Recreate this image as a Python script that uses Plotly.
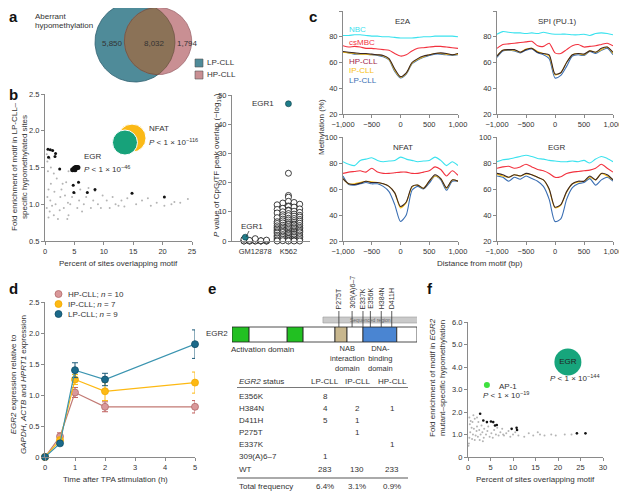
import numpy as np
import plotly.graph_objects as go

W, H = 627, 495
# the page body keeps its default 8px margin, so the figure is drawn 8px smaller
OFF = 8
FW, FH = W - OFF, H - OFF
FONT = "Liberation Sans, Arial, sans-serif"
AX = "#8a8a8a"
TXT = "#333333"

# ---------------- panel a: venn counts
VENN_LP_ONLY = 5850
VENN_SHARED = 8032
VENN_HP_ONLY = 1794

# ---------------- panel b (left): motif enrichment
B_GRAY_X = [0.3, 0.4, 0.8, 0.5, 1.5, 1.0, 0.6, 1.6, 0.4, 0.9, 1.2, 0.3, 0.8, 1.5, 0.6, 2.2, 1.8, 2.6,
            2.8, 3.4, 3.2, 2.5, 3.9, 4.0, 3.8, 4.3, 4.6, 5.1, 5.5, 5.8, 6.0, 6.3, 6.6, 7.0, 7.4, 7.8,
            8.2, 8.5, 9.0, 9.5, 9.8, 10.5, 11.0, 11.5, 12.0, 12.5, 13.0, 13.5, 14.0, 15.5, 16.5,
            17.5, 18.0, 19.0, 20.3, 21.5, 22.0, 23.0, 24.3, 2.0, 3.0, 3.6, 4.0, 1.0]
B_GRAY_Y = [1.68, 1.58, 1.62, 1.45, 1.42, 1.28, 1.20, 1.17, 1.10, 1.05, 0.98, 0.95, 0.90, 0.85, 0.82,
            0.80, 1.00, 1.10, 1.20, 1.12, 0.95, 0.92, 1.02, 0.85, 0.80, 1.00, 1.10, 1.15, 0.95, 1.05,
            1.20, 0.90, 1.00, 1.10, 1.22, 0.95, 1.05, 1.18, 1.00, 0.95, 1.12, 1.05, 0.95, 1.10, 1.00,
            0.98, 1.05, 0.97, 1.08, 1.00, 1.05, 1.08, 0.98, 1.02, 0.98, 1.00, 1.03, 1.02, 1.07, 1.35,
            1.28, 1.30, 1.45, 1.50]
B_BLACK_X = [0.5, 0.9, 1.3, 1.8, 0.6, 1.7, 2.5, 5.7, 4.8, 4.9, 7.2, 8.5, 14.8, 20.3]
B_BLACK_Y = [1.75, 1.74, 1.73, 1.69, 1.64, 1.65, 1.48, 1.30, 1.26, 1.16, 1.16, 1.20, 1.15, 1.10]
B_EGR_X = [4.7, 5.0, 5.2, 5.4, 5.1, 5.6]
B_EGR_Y = [1.47, 1.49, 1.50, 1.50, 1.47, 1.50]
B_NFAT_X = [14.8, 13.6]
B_NFAT_Y = [1.90, 1.84]

# ---------------- panel b (right): CpG / TF peak overlap
STRIP_CATS = ["GM12878", "K562"]
GM_VALUES = [0.0, 0.0, 0.0, 0.0, 0.0, 0.0, 0.0, 0.0, 0.0, 0.0, 0.1, 0.1, 0.2, 0.3, 0.6, 0.8]
K562_VALUES = [23.2, 15.6, 15.0, 13.6, 13.2, 13.0, 12.6, 12.4, 12.0, 11.8, 11.6, 11.2, 11.0, 10.8,
               10.6, 10.4, 10.2, 10.0, 9.8, 9.6, 9.4, 9.2, 9.0, 8.8, 8.7, 8.5, 8.3, 8.2, 8.0, 7.8,
               7.7, 7.5, 7.4, 7.2, 7.0, 6.9, 6.8, 6.6, 6.5, 6.4, 6.2, 6.1, 6.0, 5.9, 5.8, 5.6, 5.5,
               5.4, 5.3, 5.2, 5.0, 4.9, 4.8, 4.7, 4.6, 4.5, 4.4, 4.3, 4.2, 4.1, 4.0, 3.9, 3.8, 3.7,
               3.6, 3.5, 3.4, 3.3, 3.2, 3.1, 3.0, 3.0, 2.9, 2.8, 2.7, 2.6, 2.5, 2.4, 2.3, 2.2, 2.1,
               2.0, 1.9, 1.8, 1.7, 1.6, 1.5, 1.4, 1.3, 1.2, 1.1, 1.0, 0.9, 0.8, 0.7, 0.6, 0.5, 0.4,
               0.3, 0.2, 0.1, 0.0, 0.0, 0.0, 0.0]
EGR1_VALUES = [1.3, 47.0]

# ---------------- panel c: methylation profiles around motifs
DIST = [-1000, -900, -800, -700, -600, -500, -400, -300, -200, -100, 0,
        100, 200, 300, 400, 500, 600, 700, 800, 900, 1000]
C_GROUPS = ["NBC", "csMBC", "HP-CLL", "IP-CLL", "LP-CLL"]
E2A = {
    "NBC": [81, 81, 81.5, 81.5, 81, 80.5, 80.5, 80, 80, 79.5, 79, 79, 79, 79.5, 80, 80, 80.5, 80.5, 80.5, 80.5, 80],
    "csMBC": [73, 72, 72.5, 72, 71, 71, 70.5, 70, 69.5, 67, 65, 66, 69, 71, 71.5, 72, 72.5, 72.5, 72, 71.5, 71],
    "HP-CLL": [68.5, 68, 67.5, 67, 67, 66.5, 66, 65.5, 63, 55, 49, 52, 60, 63, 65, 66, 67, 67.5, 67, 66, 67],
    "IP-CLL": [68, 67.5, 67, 66.5, 66.5, 66, 66, 65, 62.5, 54, 48.5, 51.5, 59.5, 62.5, 64.5, 66, 67, 67, 66.5, 66, 66.5],
    "LP-CLL": [68, 67.5, 66.5, 66.5, 66.5, 66, 65.5, 64.5, 62, 53, 48, 51, 59, 62, 64, 65.5, 66.5, 66.5, 66, 65.5, 66],
}
SPI = {
    "NBC": [82, 84, 83.5, 83, 83, 82.5, 83, 82.5, 83.5, 82.5, 82, 82, 82, 81.5, 81.5, 82, 81, 82.5, 83, 82.5, 81.5],
    "csMBC": [71, 74, 74.5, 75, 75.5, 76, 76.5, 73, 72.5, 75, 67.5, 67, 70, 73, 74, 72, 72.5, 73, 74, 75, 73],
    "HP-CLL": [65, 69.5, 70, 70, 68, 70, 71, 68, 67, 66, 51, 52, 60, 66, 67, 66.5, 69, 68, 71, 72, 68],
    "IP-CLL": [65, 69.5, 70, 69.5, 68, 70.5, 71, 68.5, 67, 65, 50.5, 52, 60, 66, 67, 66, 69, 68, 70, 72, 67],
    "LP-CLL": [64, 69, 69.5, 69, 67.5, 69.5, 70.5, 67.5, 66, 63, 48, 50, 57, 65, 66, 65.5, 68.5, 67, 69.5, 71, 66],
}
NFAT = {
    "NBC": [81, 79, 78, 82, 83, 84, 82, 81, 81.5, 82, 84.5, 83, 82, 81, 81.5, 82, 84.5, 82, 78, 81, 78],
    "csMBC": [72, 73, 73.5, 74, 73, 76, 73, 72, 72, 72.5, 73, 73, 72, 72, 73, 74, 77, 75, 70, 74, 70.5],
    "HP-CLL": [68, 64, 63.5, 64.5, 66, 65, 65, 64, 62, 57, 46.5, 50, 62, 63, 60.5, 66, 71, 68, 61, 67, 66],
    "IP-CLL": [68, 64, 64, 65, 66, 65.5, 65, 64, 62, 57, 45.5, 49.5, 61.5, 63, 60.5, 66, 70, 68, 60.5, 67, 66],
    "LP-CLL": [70, 63.5, 63, 64, 65, 64, 64, 62, 58, 48, 35, 40, 59, 62, 60, 64.5, 70, 67, 59, 66, 66],
}
EGR = {
    "NBC": [81, 82.5, 83, 84, 85, 86, 85, 83.5, 83, 82, 81.5, 81, 81, 81.5, 81, 82, 80, 83, 85, 83.5, 81],
    "csMBC": [76, 77, 77.5, 76, 77, 79, 77, 75, 74, 72, 69, 69.5, 72, 73, 73.5, 74, 74.5, 76, 79, 76, 73],
    "HP-CLL": [72, 71, 69, 71, 70, 72, 71, 69, 67, 60, 46, 48, 58, 64, 66, 66, 70, 67, 72, 71, 67],
    "IP-CLL": [71.5, 70, 69, 71, 70, 71.5, 71, 69, 67, 59.5, 45.5, 47.5, 57.5, 64, 65.5, 66, 69, 67, 72, 70, 67],
    "LP-CLL": [70, 69, 66, 69, 67.5, 70, 68, 66, 62, 52, 35, 37, 52, 61, 64, 65, 68, 63, 67, 69, 66],
}
C_PANELS = [("E2A", E2A), ("SPI (PU.1)", SPI), ("NFAT", NFAT), ("EGR", EGR)]

# ---------------- panel d: EGR2 expression after TPA
TIME_H = [0, 0.5, 1, 2, 5]
D_SERIES = ["HP-CLL", "IP-CLL", "LP-CLL"]
D_N = [10, 7, 9]
D_MEAN = {
    "HP-CLL": [0, 0.33, 1.04, 0.81, 0.81],
    "IP-CLL": [0, 0.27, 1.25, 1.06, 1.20],
    "LP-CLL": [0, 0.22, 1.40, 1.25, 1.82],
}
D_ERR = {
    "HP-CLL": [0, 0.06, 0.08, 0.08, 0.10],
    "IP-CLL": [0, 0.05, 0.08, 0.15, 0.17],
    "LP-CLL": [0, 0.03, 0.12, 0.10, 0.23],
}

# ---------------- panel e: EGR2 protein + mutation table
EGR2_LENGTH = 476
DOMAIN_BOUNDS = [0, 44, 142, 183, 265, 296, 337, 424, 476]
SEQ_REGION = [234, 478]
MUT_LABELS = ["P275T", "309(A)6–7", "E337K", "E356K", "H384N", "D411H"]
MUT_POS = [275, 309, 337, 356, 384, 411]
EGR2_STATUS = ["E356K", "H384N", "D411H", "P275T", "E337K", "309(A)6–7", "WT"]
TABLE_COLS = ["LP-CLL", "IP-CLL", "HP-CLL"]
LP_COUNTS = [8, 4, 5, None, None, 1, 283]
IP_COUNTS = [None, 2, 1, 1, None, None, 130]
HP_COUNTS = [None, 1, None, None, 1, None, 233]
TOTAL_FREQ = ["6.4%", "3.1%", "0.9%"]

# ---------------- panel f: EGR2-mutant motif enrichment
F_GRAY_X = [0.3, 0.6, 0.4, 1.0, 1.5, 0.8, 1.3, 2.0, 2.5, 0.5, 1.1, 1.7, 0.3, 0.9, 1.5, 2.2, 2.8, 3.2,
            3.5, 4.0, 4.3, 4.8, 5.2, 5.8, 6.2, 6.8, 7.2, 7.6, 8.0, 8.5, 9.0, 9.4, 10.0, 10.5, 11.2,
            12.5, 13.5, 14.5, 15.5, 16.0, 17.0, 18.5, 19.5, 21.5, 23.0, 2.3, 3.0, 3.6, 4.5, 1.9,
            2.6, 3.3, 0.2, 5.5, 7.8, 6.5, 1.2, 2.0, 0.1]
F_GRAY_Y = [1.75, 1.60, 1.45, 1.55, 1.70, 1.30, 1.25, 1.35, 1.20, 1.10, 1.00, 0.95, 0.85, 0.80, 0.75,
            0.90, 1.00, 1.10, 0.85, 1.00, 1.15, 0.90, 1.05, 1.20, 1.00, 0.95, 1.10, 1.25, 0.95, 1.05,
            1.15, 0.90, 1.00, 1.10, 0.95, 0.90, 1.05, 0.95, 1.10, 1.00, 0.95, 1.00, 0.95, 1.00, 1.00,
            1.55, 1.40, 1.25, 1.35, 1.15, 0.75, 0.70, 0.60, 0.85, 1.00, 1.30, 1.85, 1.75, 0.50]
F_BLACK_X = [2.7, 3.4, 5.1, 5.6, 6.0, 6.4, 9.7, 10.8, 10.9, 24.2, 26.1, 4.2]
F_BLACK_Y = [1.92, 1.62, 1.58, 1.55, 1.40, 1.42, 1.25, 1.30, 1.20, 1.05, 1.05, 1.55]
F_AP1 = (4.2, 3.2)
F_EGR = (22.2, 4.22)


# pixel helpers: positions are given in screen pixels of the 627x495 picture
def xd(p0, p1):
    return [max(0, (p0 - OFF) / FW), min(1, (p1 - OFF) / FW)]


def yd(p0, p1):
    return [max(0, 1 - (p1 - OFF) / FH), min(1, 1 - (p0 - OFF) / FH)]


def px(x):
    return (x - OFF) / FW


def py(y):
    return 1 - (y - OFF) / FH


def ax(**kw):
    d = dict(showline=True, linecolor=AX, linewidth=1, ticks="outside", ticklen=3,
             tickwidth=1, tickcolor=AX, tickfont=dict(size=7.5, color=TXT, family=FONT),
             showgrid=False, zeroline=False, fixedrange=True)
    d.update(kw)
    return d


annotations = []


def note(x, y, text, size=8, color=TXT, xanchor="center", yanchor="middle", angle=0, bold=False):
    if bold:
        text = "<b>" + text + "</b>"
    annotations.append(dict(x=px(x), y=py(y), xref="paper", yref="paper", text=text,
                            showarrow=False, xanchor=xanchor, yanchor=yanchor, textangle=angle,
                            font=dict(size=size, color=color, family=FONT)))


fig = go.Figure()
shapes = []

# ---------------- a: venn
lp_total = VENN_LP_ONLY + VENN_SHARED
hp_total = VENN_HP_ONLY + VENN_SHARED
k = 40 / np.sqrt(lp_total)
r1, r2 = k * np.sqrt(lp_total), k * np.sqrt(hp_total)
c1, c2 = np.array([135.0, 42.0]), np.array([158.0, 41.0])
t = np.linspace(0, 2 * np.pi, 200)
for (c, r, fill, edge) in [(c1, r1, "#4f8b99", "#2f6070"), (c2, r2, "#c98f93", "#a06a70")]:
    fig.add_trace(go.Scatter(x=c[0] + r * np.cos(t), y=c[1] + r * np.sin(t), mode="lines",
                             fill="toself", fillcolor=fill, line=dict(color=edge, width=0.8),
                             hoverinfo="skip", showlegend=False, xaxis="x", yaxis="y"))
d = np.linalg.norm(c2 - c1)
phi = np.arctan2(c2[1] - c1[1], c2[0] - c1[0])
a1 = np.arccos((d ** 2 + r1 ** 2 - r2 ** 2) / (2 * d * r1))
a2 = np.arccos((d ** 2 + r2 ** 2 - r1 ** 2) / (2 * d * r2))
ta = np.linspace(phi - a1, phi + a1, 100)
tb = np.linspace(phi + np.pi - a2, phi + np.pi + a2, 100)
lx = np.concatenate([c1[0] + r1 * np.cos(ta), c2[0] + r2 * np.cos(tb)])
ly = np.concatenate([c1[1] + r1 * np.sin(ta), c2[1] + r2 * np.sin(tb)])
fig.add_trace(go.Scatter(x=lx, y=ly, mode="lines", fill="toself", fillcolor="#8b7257",
                         line=dict(color="#5e4a38", width=0.6), hoverinfo="skip",
                         showlegend=False, xaxis="x", yaxis="y"))
fig.add_trace(go.Scatter(x=[199, 199], y=[63, 75], mode="markers",
                         marker=dict(symbol="square", size=8, color=["#4f8b99", "#c98f93"],
                                     line=dict(color="#555", width=0.6)),
                         hoverinfo="skip", showlegend=False, xaxis="x", yaxis="y"))
note(113, 44, f"{VENN_LP_ONLY:,}")
note(154, 44, f"{VENN_SHARED:,}")
note(187, 44, f"{VENN_HP_ONLY:,}")
note(205, 63, "LP-CLL", xanchor="left")
note(205, 75, "HP-CLL", xanchor="left")
note(33, 16, "Aberrant", xanchor="left")
note(33, 26, "hypomethylation", xanchor="left")

# ---------------- b left
fig.add_trace(go.Scatter(x=B_GRAY_X, y=B_GRAY_Y, mode="markers",
                         marker=dict(size=2, color="#b4b4b4"), showlegend=False,
                         xaxis="x2", yaxis="y2"))
fig.add_trace(go.Scatter(x=B_BLACK_X, y=B_BLACK_Y, mode="markers",
                         marker=dict(size=3, color="#111"), showlegend=False,
                         xaxis="x2", yaxis="y2"))
fig.add_trace(go.Scatter(x=B_EGR_X, y=B_EGR_Y, mode="markers",
                         marker=dict(size=5, color="#111"), showlegend=False,
                         xaxis="x2", yaxis="y2"))
fig.add_trace(go.Scatter(x=B_NFAT_X, y=B_NFAT_Y, mode="markers",
                         marker=dict(size=[28, 25], color=["#fbb916", "#17a27a"], opacity=1),
                         showlegend=False, xaxis="x2", yaxis="y2"))
note(147, 129, "NFAT", xanchor="left")
note(147, 142, "<i>P</i> < 1 × 10<sup>−116</sup>", xanchor="left")
note(82, 156, "EGR", xanchor="left")
note(82, 169, "<i>P</i> < 1 × 10<sup>−46</sup>", xanchor="left")
note(19, 167, "Fold enrichment of motif in LP-CLL–<br>specific hypomethylated sites", angle=-90)
note(118, 263, "Percent of sites overlapping motif")


# ---------------- b right (strip)
def swarm(values, bin_size=1.6, step=0.17, slots=5):
    order = [0, 1, -1, 2, -2, 3, -3]
    seen = {}
    offs = []
    for v in values:
        b = int(round(v / bin_size))
        n = seen.get(b, 0)
        seen[b] = n + 1
        offs.append(order[n % slots] * step)
    return np.array(offs)


for i, vals in enumerate([GM_VALUES, K562_VALUES]):
    xs = i + swarm(vals)
    fig.add_trace(go.Scatter(x=xs, y=vals, mode="markers", cliponaxis=False,
                             marker=dict(size=6, color="white", line=dict(color="#111", width=0.8)),
                             showlegend=False, xaxis="x3", yaxis="y3"))
fig.add_trace(go.Scatter(x=[-0.3, 1.0], y=EGR1_VALUES, mode="markers", cliponaxis=False,
                         marker=dict(size=6, color="#1f7d8a", line=dict(color="#0d3c44", width=0.6)),
                         showlegend=False, xaxis="x3", yaxis="y3"))
note(252, 226, "EGR1")
note(263, 103, "EGR1")
shapes.append(dict(type="line", xref="paper", yref="paper", x0=px(246), x1=px(249),
                   y0=py(237), y1=py(231), line=dict(color="#333", width=0.8)))
note(217, 165, "<i>P</i> value of CpG/TF peak overlap (−log<sub>10</sub>)", angle=-90)

# ---------------- c
c_colors = {"NBC": "#3ae2ee", "csMBC": "#f2323f", "HP-CLL": "#3a2626",
            "IP-CLL": "#f8be12", "LP-CLL": "#3b6fb3"}
c_text = {"NBC": "#3ae2ee", "csMBC": "#f2323f", "HP-CLL": "#a01d49",
          "IP-CLL": "#f8be12", "LP-CLL": "#3b6fb3"}
c_boxes = [(343, 458, 11, 114), (497, 613, 11, 114), (343, 458, 137, 241), (497, 613, 137, 241)]
for j, (title, data) in enumerate(C_PANELS):
    axn = j + 4
    for g in ["NBC", "csMBC", "LP-CLL", "IP-CLL", "HP-CLL"]:
        fig.add_trace(go.Scatter(x=DIST, y=data[g], mode="lines",
                                 line=dict(color=c_colors[g], width=1.1, shape="spline", smoothing=0.7),
                                 showlegend=False, xaxis=f"x{axn}", yaxis=f"y{axn}"))
    x0, x1, y0, y1 = c_boxes[j]
    note((x0 + x1) / 2 + 2, y0 + 10, title)
for g, yy in zip(C_GROUPS, [29, 42, 61, 71, 81]):
    note(347, yy, g, color=c_text[g], xanchor="left")
note(321, 127, "Methylation (%)", angle=-90)
note(480, 263, "Distance from motif (bp)")

# ---------------- d
d_fill = {"HP-CLL": "#d9989a", "IP-CLL": "#fdb913", "LP-CLL": "#1b6a8a"}
d_edge = {"HP-CLL": "#b36a6a", "IP-CLL": "#f0a800", "LP-CLL": "#104e68"}
d_line = {"HP-CLL": "#c27a74", "IP-CLL": "#fdb913", "LP-CLL": "#3a94b0"}
d_err = {"HP-CLL": "#c0605e", "IP-CLL": "#fdb913", "LP-CLL": "#1b5a78"}
for g in D_SERIES:
    fig.add_trace(go.Scatter(x=TIME_H, y=D_MEAN[g], mode="lines+markers", cliponaxis=False,
                             line=dict(color=d_line[g], width=1.2),
                             marker=dict(size=7, color=d_fill[g], line=dict(color=d_edge[g], width=0.8)),
                             error_y=dict(type="data", array=D_ERR[g], color=d_err[g],
                                          thickness=1, width=3),
                             showlegend=False, xaxis="x8", yaxis="y8"))
for g, n, yy in zip(D_SERIES, D_N, [294, 304, 314]):
    shapes.append(dict(type="circle", xref="paper", yref="paper",
                       x0=px(55), x1=px(62), y0=py(yy + 3.5), y1=py(yy - 3.5),
                       fillcolor=d_fill[g], line=dict(color=d_edge[g], width=0.8)))
    note(66, yy, f"{g}; <i>n</i> = {n}", xanchor="left")
note(18, 385, "<i>EGR2</i> expression relative to<br><i>GAPDH</i>, <i>ACTB</i> and <i>HPRT1</i> expression",
     angle=-90)
note(115, 479, "Time after TPA stimulation (h)")

# ---------------- e
seg_colors = ["#22c022", "white", "#22c022", "white", "#c8b78e", "white", "#4a85d2", "white"]
for a, b, col in zip(DOMAIN_BOUNDS[:-1], DOMAIN_BOUNDS[1:], seg_colors):
    shapes.append(dict(type="rect", xref="x10", yref="y10", x0=a, x1=b, y0=327, y1=342,
                       fillcolor=col, line=dict(color="#222", width=0.8), layer="above"))
shapes.append(dict(type="rect", xref="x10", yref="y10", x0=SEQ_REGION[0], x1=SEQ_REGION[1],
                   y0=317, y1=323, fillcolor="#cacaca", line=dict(color="#9a9a9a", width=0.6)))
annotations.append(dict(x=(SEQ_REGION[0] + SEQ_REGION[1]) / 2, y=320, xref="x10", yref="y10",
                        text="Sequenced region", showarrow=False,
                        font=dict(size=5, color="#666", family=FONT)))
for lab, pos in zip(MUT_LABELS, MUT_POS):
    shapes.append(dict(type="line", xref="x10", yref="y10", x0=pos, x1=pos, y0=311, y1=327,
                       line=dict(color="#333", width=0.8)))
    annotations.append(dict(x=pos, y=311, xref="x10", yref="y10", text=lab, showarrow=False,
                            textangle=-90, xanchor="center", yanchor="bottom",
                            font=dict(size=7, color=TXT, family=FONT)))
note(217, 333, "EGR2")
note(262, 349, "Activation domain")
note(348, 358, "NAB<br>interaction<br>domain", size=7.5)
note(381, 358, "DNA-<br>binding<br>domain", size=7.5)

col_x = [325, 357, 392]
note(237, 381, "<i>EGR2</i> status", xanchor="left")
for cx, cname in zip(col_x, TABLE_COLS):
    note(cx, 381, cname)
shapes.append(dict(type="line", xref="paper", yref="paper", x0=px(237), x1=px(408),
                   y0=py(387.5), y1=py(387.5), line=dict(color="#555", width=0.8)))
row_y = [396, 408, 420, 432, 444, 456, 469]
for ry, status, lp, ip, hp in zip(row_y, EGR2_STATUS, LP_COUNTS, IP_COUNTS, HP_COUNTS):
    note(237, ry, status, xanchor="left")
    for cx, v in zip(col_x, [lp, ip, hp]):
        if v is not None:
            note(cx, ry, str(v))
shapes.append(dict(type="line", xref="paper", yref="paper", x0=px(237), x1=px(408),
                   y0=py(478), y1=py(478), line=dict(color="#aaaaaa", width=2)))
note(237, 486, "Total frequency", xanchor="left")
for cx, v in zip(col_x, TOTAL_FREQ):
    note(cx, 486, v)

# ---------------- f
fig.add_trace(go.Scatter(x=F_GRAY_X, y=F_GRAY_Y, mode="markers",
                         marker=dict(size=2, color="#b4b4b4"), showlegend=False,
                         xaxis="x9", yaxis="y9"))
fig.add_trace(go.Scatter(x=F_BLACK_X, y=F_BLACK_Y, mode="markers",
                         marker=dict(size=2.6, color="#111"), showlegend=False,
                         xaxis="x9", yaxis="y9"))
fig.add_trace(go.Scatter(x=[F_AP1[0]], y=[F_AP1[1]], mode="markers",
                         marker=dict(size=6, color="#3ee03e"), showlegend=False,
                         xaxis="x9", yaxis="y9"))
fig.add_trace(go.Scatter(x=[F_EGR[0]], y=[F_EGR[1]], mode="markers+text", text=["EGR"],
                         textposition="middle center", textfont=dict(size=8, color="#222", family=FONT),
                         marker=dict(size=27, color="#17a57c"), showlegend=False,
                         xaxis="x9", yaxis="y9"))
note(497, 386, "AP-1", xanchor="left")
note(506, 395, "<i>P</i> < 1 × 10<sup>−19</sup>")
note(575, 378, "<i>P</i> < 1 × 10<sup>−144</sup>")
note(437, 378, "Fold enrichment of motif in <i>EGR2</i><br>mutant–specific hypomethylation", angle=-90)
note(535, 479, "Percent of sites overlapping motif")

# ---------------- panel letters
for lab, lx_, ly_ in [("a", 13, 17), ("b", 13, 94), ("c", 313, 17), ("d", 13, 288),
                      ("e", 212, 288), ("f", 430, 288)]:
    note(lx_, ly_, lab, size=15, color="#111", bold=True)

c_xt = dict(tickvals=[-1000, -500, 0, 500, 1000], ticktext=["−1,000", "−500", "0", "500", "1,000"],
            range=[-1000, 1000])
c_yt = dict(tickvals=[20, 40, 60, 80, 100], range=[20, 100])
layout_axes = dict(
    xaxis=dict(domain=xd(90, 240), range=[90, 240], visible=False, fixedrange=True),
    yaxis=dict(domain=yd(8, 86), range=[86, 8], visible=False, fixedrange=True),
    xaxis2=ax(domain=xd(45, 192), range=[0, 25], tickvals=[0, 5, 10, 15, 20, 25], anchor="y2"),
    yaxis2=ax(domain=yd(94, 241), range=[0.5, 2.5], tickvals=[0.5, 1, 1.5, 2, 2.5],
              tickformat=".1f", anchor="x2"),
    xaxis3=ax(domain=xd(232, 310), range=[-0.7, 1.65], tickvals=[0, 1], ticktext=STRIP_CATS,
              anchor="y3"),
    yaxis3=ax(domain=yd(95, 241), range=[0, 50], tickvals=[0, 10, 20, 30, 40, 50], anchor="x3"),
    xaxis8=ax(domain=xd(45, 195), range=[0, 5], tickvals=[0, 1, 2, 3, 4, 5], anchor="y8"),
    yaxis8=ax(domain=yd(302, 457), range=[0, 2.5], tickvals=[0, 0.5, 1, 1.5, 2, 2.5],
              ticktext=["0", "0.5", "1.0", "1.5", "2.0", "2.5"], anchor="x8"),
    xaxis9=ax(domain=xd(468, 603), range=[0, 30], tickvals=[0, 5, 10, 15, 20, 25, 30], anchor="y9"),
    yaxis9=ax(domain=yd(322, 457), range=[0, 6], tickvals=[0, 1, 2, 3, 4, 5, 6],
              ticktext=["0", "1.0", "2.0", "3.0", "4.0", "5.0", "6.0"], anchor="x9"),
    xaxis10=dict(domain=xd(232, 417), range=[0, EGR2_LENGTH], visible=False, fixedrange=True,
                 anchor="y10"),
    yaxis10=dict(domain=yd(260, 495), range=[495, 260], visible=False, fixedrange=True,
                 anchor="x10"),
)
for j, (x0, x1, y0, y1) in enumerate(c_boxes):
    n = j + 4
    layout_axes[f"xaxis{n}"] = ax(domain=xd(x0, x1), anchor=f"y{n}", **c_xt)
    layout_axes[f"yaxis{n}"] = ax(domain=yd(y0, y1), anchor=f"x{n}", **c_yt)

fig.update_layout(
    width=FW, height=FH, margin=dict(l=0, r=0, t=0, b=0),
    paper_bgcolor="white", plot_bgcolor="rgba(0,0,0,0)", template="none",
    font=dict(family=FONT, size=8, color=TXT), showlegend=False,
    annotations=annotations, shapes=shapes, **layout_axes,
)
fig.write_html("out.html")
